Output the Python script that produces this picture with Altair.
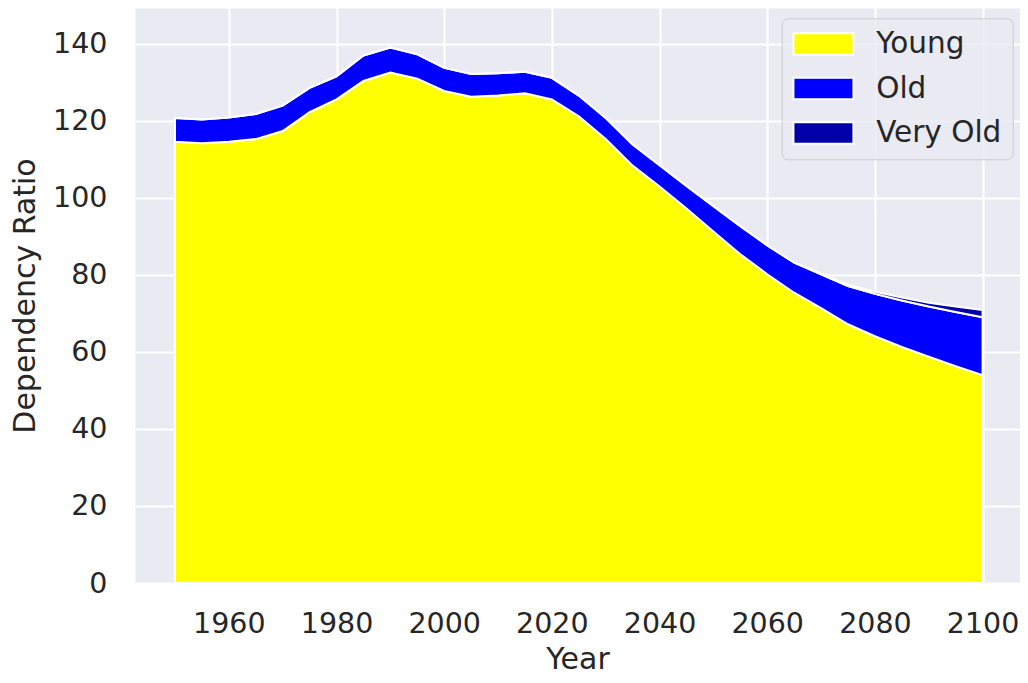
import altair as alt
import pandas as pd

years = list(range(1950, 2101, 5))
young = [114.6, 114.2, 114.6, 115.3, 117.4, 122.3, 125.6, 130.4, 132.6, 131.0,
         127.8, 126.3, 126.6, 127.2, 125.6, 121.2, 115.3, 108.4, 103.0, 97.3,
         91.3, 85.4, 80.2, 75.4, 71.4, 67.2, 64.1, 61.3, 58.8, 56.3, 54.0]
old = [6.2, 6.2, 6.3, 6.5, 6.6, 6.3, 6.0, 6.6, 6.5, 6.3,
       6.0, 5.9, 5.8, 5.6, 5.6, 5.4, 5.5, 5.5, 5.5, 5.8,
       6.6, 7.3, 7.5, 7.8, 8.8, 9.9, 11.0, 12.1, 13.0, 14.1, 15.0]
very_old = [0, 0, 0, 0, 0, 0, 0, 0, 0, 0,
            0, 0, 0, 0, 0, 0, 0, 0, 0, 0,
            0, 0, 0, 0.05, 0.2, 0.35, 0.55, 0.75, 1.0, 1.4, 1.9]
categories = ["Young", "Old", "Very Old"]
colors = ["#FFFF00", "#0000FF", "#0000AA"]
x_ticks = [1960, 1980, 2000, 2020, 2040, 2060, 2080, 2100]
y_ticks = [0, 20, 40, 60, 80, 100, 120, 140]

rows = []
for i, yr in enumerate(years):
    for k, (cat, vals) in enumerate(zip(categories, [young, old, very_old])):
        rows.append({"Year": yr, "Group": cat, "Value": vals[i], "order": k})
df = pd.DataFrame(rows)

FONT = "DejaVu Sans"
TXT = "#262626"

chart = alt.Chart(df).mark_area(
    stroke="white", strokeWidth=2, interpolate="linear", opacity=1
).encode(
    x=alt.X("Year:Q",
            scale=alt.Scale(domain=[1942.57, 2106.95], nice=False, zero=False),
            axis=alt.Axis(values=x_ticks, title="Year", format="d",
                          labelPadding=26, titlePadding=7)),
    y=alt.Y("Value:Q", stack="zero",
            scale=alt.Scale(domain=[0, 149.35], nice=False),
            axis=alt.Axis(values=y_ticks, title="Dependency Ratio",
                          labelPadding=28, titlePadding=12)),
    color=alt.Color("Group:N",
                    scale=alt.Scale(domain=categories, range=colors),
                    legend=alt.Legend(
                        title=None, orient="none", legendX=646.7, legendY=10.3,
                        fillColor="rgba(234,234,242,0.8)", strokeColor="#CCCCCC",
                        cornerRadius=6, padding=11,
                        symbolType="M-1.4,-1.08H4.6V1.08H-1.4Z", symbolSize=400,
                        symbolStrokeColor="white", symbolStrokeWidth=2,
                        symbolOpacity=1,
                        labelFont=FONT, labelFontSize=29.5, labelColor=TXT,
                        labelOffset=54, rowPadding=13.5)),
    order=alt.Order("order:Q", sort="ascending"),
).properties(
    width=885, height=575,
    autosize=alt.AutoSizeParams(type="none"),
    padding={"left": 127, "top": 0, "right": 0, "bottom": 92},
).configure_view(
    fill="#EAEAF2", stroke="transparent"
).configure_axis(
    domain=False, ticks=False, tickSize=0, grid=True,
    gridColor="white", gridWidth=2,
    labelFont=FONT, labelFontSize=28.5, labelColor=TXT,
    titleFont=FONT, titleFontSize=30, titleColor=TXT, titleFontWeight="normal",
)

chart.save("out.html", embed_options={"renderer": "svg", "actions": False})
